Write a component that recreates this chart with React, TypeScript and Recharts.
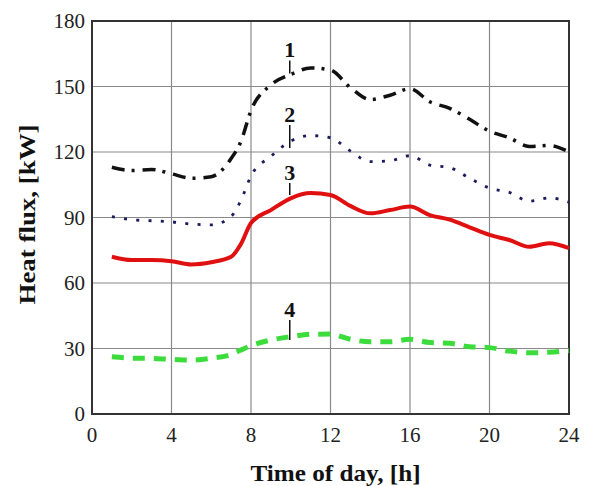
import {
  CartesianGrid,
  Line,
  LineChart,
  ReferenceArea,
  ReferenceDot,
  XAxis,
  YAxis,
} from "recharts";

// hours of the day (half-hour point where curves climb steeply)
const hours = [1, 2, 3, 4, 5, 6, 7, 7.5, 8, 9, 10, 11, 12, 13, 14, 15, 16, 17, 18, 19, 20, 21, 22, 23, 24];

// heat flux, kW
const curve1 = [113, 111.5, 112, 110, 108, 108.7, 117, 125, 139, 150.7, 155.5, 158.5, 157.5, 149.5, 144, 146, 149, 143, 140, 135, 129.5, 126.5, 122.5, 123, 120];
const curve2 = [90.4, 89, 88.5, 88, 87, 86.6, 90.5, 98, 109, 118, 125, 127.5, 126.5, 120.5, 115.6, 116, 118.3, 114, 112.8, 108, 103.5, 101.5, 97.5, 99, 97];
const curve3 = [72, 70.5, 70.5, 70, 68.5, 69.5, 72, 78, 87.5, 93.4, 98.8, 101.2, 100.3, 95.3, 91.9, 93.4, 95, 91.1, 89, 85.5, 82, 79.7, 76.6, 78.2, 76];
const curve4 = [26.2, 25.6, 25.5, 25, 24.7, 25.5, 27.3, 29.3, 31.3, 33.9, 35.4, 36.5, 36.6, 34.2, 33.1, 33.1, 34.2, 32.7, 32.4, 30.8, 30.4, 28.8, 28, 28.3, 29];

const xTicks = [0, 4, 8, 12, 16, 20, 24];
const yTicks = [0, 30, 60, 90, 120, 150, 180];

// curve number labels: hour and value at the foot of the pointer
const labelNames = ["1", "2", "3", "4"];
const labelHour = 9.95;
const labelValues = [156, 121.8, 100.3, 33.9];
const pointerLen = [13, 23, 12, 20];

const data = hours.map((h, i) => ({
  h,
  c1: curve1[i],
  c2: curve2[i],
  c3: curve3[i],
  c4: curve4[i],
}));

const serif = "'Liberation Serif', 'Times New Roman', serif";
const tickStyle = { fontSize: 21, fontFamily: serif, fill: "#222" };

export default function App() {
  return (
    <LineChart
      width={573}
      height={478}
      data={data}
      margin={{ top: 13, right: 12, left: 0, bottom: 0 }}
      style={{ background: "#fff" }}
    >
      <CartesianGrid stroke="#8a8a8a" strokeWidth={1.2} />
      <XAxis
        dataKey="h"
        type="number"
        domain={[0, 24]}
        ticks={xTicks}
        axisLine={false}
        tickLine={false}
        tickMargin={7}
        height={72}
        tick={tickStyle}
        label={{
          content: ({ viewBox }: any) => (
            <text
              x={viewBox.x + viewBox.width / 2 + 5}
              y={viewBox.y + 67}
              textAnchor="middle"
              fontFamily={serif}
              fontWeight="bold"
              fontSize={24}
              textLength={170}
              lengthAdjust="spacingAndGlyphs"
              fill="#111"
            >
              Time of day, [h]
            </text>
          ),
        }}
      />
      <YAxis
        type="number"
        domain={[0, 180]}
        ticks={yTicks}
        axisLine={false}
        tickLine={false}
        tickMargin={1}
        width={84}
        tick={tickStyle}
        label={{
          content: ({ viewBox }: any) => {
            const cx = viewBox.x + 19;
            const cy = viewBox.y + viewBox.height / 2 - 3;
            return (
              <text
                x={cx}
                y={cy}
                transform={`rotate(-90 ${cx} ${cy})`}
                textAnchor="middle"
                dominantBaseline="central"
                fontFamily={serif}
                fontWeight="bold"
                fontSize={24}
                textLength={180}
                lengthAdjust="spacingAndGlyphs"
                fill="#111"
              >
                Heat flux, [kW]
              </text>
            );
          },
        }}
      />
      <ReferenceArea x1={0} x2={24} y1={0} y2={180} fill="none" stroke="#333" strokeWidth={2} />
      <Line
        dataKey="c1"
        type="monotone"
        stroke="#111"
        strokeWidth={3.5}
        strokeDasharray="13 7 3 8"
        dot={false}
        isAnimationActive={false}
      />
      <Line
        dataKey="c2"
        type="monotone"
        stroke="#1c1c5c"
        strokeWidth={2.8}
        strokeDasharray="3 9.3"
        dot={false}
        isAnimationActive={false}
      />
      <Line
        dataKey="c3"
        type="monotone"
        stroke="#e01010"
        strokeWidth={4}
        dot={false}
        isAnimationActive={false}
      />
      <Line
        dataKey="c4"
        type="monotone"
        stroke="#3cdc3c"
        strokeWidth={5}
        strokeDasharray="12 9"
        dot={false}
        isAnimationActive={false}
      />
      {labelNames.map((name, i) => (
        <ReferenceDot
          key={name}
          x={labelHour}
          y={labelValues[i]}
          r={0}
          shape={(p: any) => (
            <g>
              <line
                x1={p.cx}
                y1={p.cy}
                x2={p.cx}
                y2={p.cy - pointerLen[i]}
                stroke="#111"
                strokeWidth={1.5}
              />
              <text
                x={p.cx}
                y={p.cy - pointerLen[i] - 3}
                textAnchor="middle"
                fontFamily={serif}
                fontWeight="bold"
                fontSize={22}
                fill="#111"
              >
                {name}
              </text>
            </g>
          )}
        />
      ))}
    </LineChart>
  );
}
